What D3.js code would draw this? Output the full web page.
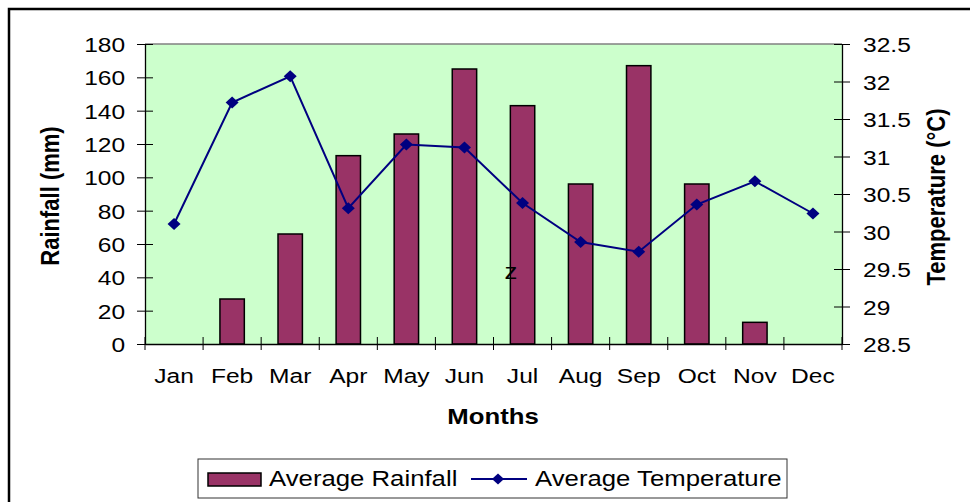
<!DOCTYPE html>
<html>
<head>
<meta charset="utf-8">
<script src="https://cdn.jsdelivr.net/npm/d3@7"></script>
<style>
  html, body { margin: 0; padding: 0; background: #fff; }
  svg { display: block; font-family: 'Liberation Sans', Arial, sans-serif; }
</style>
</head>
<body>
<div class="d3-wrapper"></div>
<script>
const months = ['Jan', 'Feb', 'Mar', 'Apr', 'May', 'Jun', 'Jul', 'Aug', 'Sep', 'Oct', 'Nov', 'Dec'];
const rainfall = [0, 27, 66, 113, 126, 165, 143, 96, 167, 96, 13, 0];
const temperature = [30.1, 31.72, 32.07, 30.31, 31.16, 31.12, 30.38, 29.86, 29.73, 30.36, 30.67, 30.24];
const rainTicks = [0, 20, 40, 60, 80, 100, 120, 140, 160, 180];
const tempTicks = [28.5, 29, 29.5, 30, 30.5, 31, 31.5, 32, 32.5];

const WIDTH = 970, HEIGHT = 502;
const PLOT = { left: 145, right: 842, top: 44, bottom: 344 };
const STRETCH = 1.17; // the original picture is stretched sideways
const BAR_COLOR = '#993366', LINE_COLOR = '#000080', PLOT_BG = '#ccffcc';

const xScale = d3.scaleBand().domain(months).range([PLOT.left, PLOT.right]);
const yRain = d3.scaleLinear().domain([0, 180]).range([PLOT.bottom, PLOT.top]);
const yTemp = d3.scaleLinear().domain([28.5, 32.5]).range([PLOT.bottom, PLOT.top]);

const svg = d3.select('.d3-wrapper').append('svg')
  .attr('width', WIDTH)
  .attr('height', HEIGHT);

// outer chart border (only left and top visible in the crop)
svg.append('rect')
  .attr('x', 9).attr('y', 9)
  .attr('width', 1000).attr('height', 1000)
  .attr('fill', 'none')
  .attr('stroke', '#000')
  .attr('stroke-width', 2.5);

svg.append('rect')
  .attr('x', PLOT.left).attr('y', PLOT.top)
  .attr('width', PLOT.right - PLOT.left)
  .attr('height', PLOT.bottom - PLOT.top)
  .attr('fill', PLOT_BG);

svg.append('line')
  .attr('x1', PLOT.left).attr('x2', PLOT.right)
  .attr('y1', PLOT.top).attr('y2', PLOT.top)
  .attr('stroke', '#808080')
  .attr('stroke-width', 1.5);

const diamond = (w, h) => `M0,${-h}L${w},0L0,${h}L${-w},0Z`;
const stretched = (sel) => sel.attr('transform', function () {
  const prev = d3.select(this).attr('transform') || '';
  return prev + ` scale(${STRETCH},1)`;
});

// bars
const barW = xScale.bandwidth() * 0.42;
svg.append('g')
  .selectAll('rect')
  .data(months)
  .enter().append('rect')
  .filter((d, i) => rainfall[i] > 0)
  .attr('x', (d) => xScale(d) + (xScale.bandwidth() - barW) / 2)
  .attr('y', (d) => yRain(rainfall[months.indexOf(d)]))
  .attr('width', barW)
  .attr('height', (d) => PLOT.bottom - yRain(rainfall[months.indexOf(d)]))
  .attr('fill', BAR_COLOR)
  .attr('stroke', '#000')
  .attr('stroke-width', 1.5);

// axes
const styleAxis = (g) => {
  g.select('.domain').attr('stroke', '#000').attr('stroke-width', 1.3);
  g.selectAll('.tick line').attr('stroke', '#000').attr('stroke-width', 1);
  g.selectAll('.tick text')
    .attr('fill', '#000')
    .style('font-size', '21px')
    .style('font-family', "'Liberation Sans', Arial, sans-serif");
};

const leftAxis = svg.append('g')
  .attr('transform', `translate(${PLOT.left},0)`)
  .call(d3.axisLeft(yRain).tickValues(rainTicks).tickSizeInner(8).tickSizeOuter(0))
  .call(styleAxis);
leftAxis.selectAll('.tick line').attr('x1', 8);
leftAxis.selectAll('.tick text').attr('x', -17).attr('dy', '0.36em').call(stretched);

const rightAxis = svg.append('g')
  .attr('transform', `translate(${PLOT.right},0)`)
  .call(d3.axisRight(yTemp).tickValues(tempTicks).tickFormat(d3.format('')).tickSizeInner(8).tickSizeOuter(0))
  .call(styleAxis);
rightAxis.selectAll('.tick line').attr('x1', -8);
rightAxis.selectAll('.tick text').attr('x', 18).attr('dy', '0.36em').call(stretched);

const bottomAxis = svg.append('g')
  .attr('transform', `translate(0,${PLOT.bottom})`)
  .call(d3.axisBottom(xScale).tickSizeInner(0).tickSizeOuter(0))
  .call(styleAxis);
bottomAxis.selectAll('.tick text').attr('y', 39).attr('dy', 0).call(stretched);

// category separators on the x axis
const sepX = months.map((m) => xScale(m)).concat([PLOT.right]);
bottomAxis.append('g')
  .selectAll('line')
  .data(sepX)
  .enter().append('line')
  .attr('x1', (d) => d).attr('x2', (d) => d)
  .attr('y1', -7).attr('y2', 6)
  .attr('stroke', '#000');

// temperature line
const line = d3.line()
  .x((d, i) => xScale(months[i]) + xScale.bandwidth() / 2)
  .y((d) => yTemp(d));

svg.append('path')
  .datum(temperature)
  .attr('d', line)
  .attr('fill', 'none')
  .attr('stroke', LINE_COLOR)
  .attr('stroke-width', 2);

svg.append('g')
  .selectAll('path')
  .data(temperature)
  .enter().append('path')
  .attr('transform', (d, i) => `translate(${xScale(months[i]) + xScale.bandwidth() / 2},${yTemp(d)})`)
  .attr('d', diamond(6.5, 6))
  .attr('fill', LINE_COLOR);

// stray letter in the plot area
svg.append('text')
  .attr('transform', `translate(511,279) scale(${STRETCH},1)`)
  .attr('text-anchor', 'middle')
  .style('font-size', '22px')
  .text('z');

// axis titles
svg.append('text')
  .attr('transform', `translate(${(PLOT.left + PLOT.right) / 2 - 0.5},424) scale(${STRETCH},1)`)
  .attr('text-anchor', 'middle')
  .style('font-size', '22px')
  .style('font-weight', 'bold')
  .text('Months');

svg.append('text')
  .attr('transform', `translate(59,196) scale(${STRETCH},1) rotate(-90)`)
  .attr('text-anchor', 'middle')
  .style('font-size', '22px')
  .style('font-weight', 'bold')
  .text('Rainfall (mm)');

svg.append('text')
  .attr('transform', `translate(945,197) scale(${STRETCH},1) rotate(-90)`)
  .attr('text-anchor', 'middle')
  .style('font-size', '22px')
  .style('font-weight', 'bold')
  .text('Temperature (°C)');

// legend
const legend = svg.append('g').attr('class', 'legend');
legend.append('rect')
  .attr('x', 198).attr('y', 459)
  .attr('width', 589).attr('height', 39)
  .attr('fill', '#fff')
  .attr('stroke', '#333')
  .attr('stroke-width', 1);
legend.append('rect')
  .attr('x', 208).attr('y', 473)
  .attr('width', 53).attr('height', 13)
  .attr('fill', BAR_COLOR)
  .attr('stroke', '#000')
  .attr('stroke-width', 1.5);
legend.append('text')
  .attr('transform', `translate(269,485.5) scale(${STRETCH},1)`)
  .style('font-size', '22px')
  .text('Average Rainfall');
legend.append('line')
  .attr('x1', 471).attr('x2', 527)
  .attr('y1', 479).attr('y2', 479)
  .attr('stroke', LINE_COLOR)
  .attr('stroke-width', 2);
legend.append('path')
  .attr('transform', 'translate(498,479)')
  .attr('d', diamond(6, 5.5))
  .attr('fill', LINE_COLOR);
legend.append('text')
  .attr('transform', `translate(535,485.5) scale(${STRETCH},1)`)
  .style('font-size', '22px')
  .text('Average Temperature');
</script>
</body>
</html>
